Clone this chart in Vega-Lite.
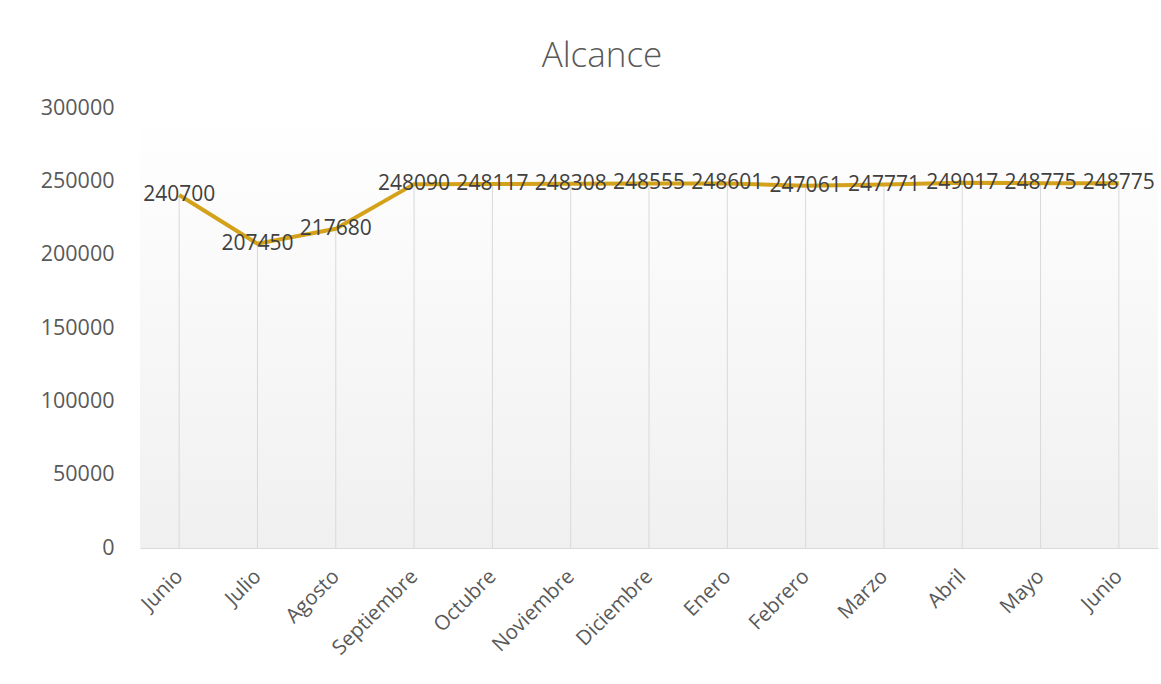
{
  "$schema": "https://vega.github.io/schema/vega-lite/v6.json",
  "width": 1018,
  "height": 440,
  "autosize": {"type": "none"},
  "padding": {"left": 140, "top": 108, "right": 3, "bottom": 136},
  "background": "white",
  "title": {"text": "Alcance", "fontSize": 35, "font": "Open Sans", "fontWeight": 300, "color": "#595959", "anchor": "middle", "offset": 23, "dx": -47},
  "config": {
    "view": {"stroke": null},
    "axisY": {"grid": false, "domain": false, "ticks": false, "labelFontSize": 21.5, "labelFont": "Open Sans", "labelColor": "#595959", "labelPadding": 26, "title": null, "tickCount": 6, "format": "d"},
    "axisX": {"grid": false, "domain": true, "domainColor": "#d9d9d9", "domainWidth": 1, "ticks": false, "labelFontSize": 20.5, "labelFont": "Open Sans", "labelColor": "#595959", "labelAngle": -45, "labelAlign": "right", "labelBaseline": "middle", "labelPadding": 25, "title": null, "labelExpr": "substring(datum.value, 3)"}
  },
  "data": {"values": [
    {"clave": "01 Junio", "valor": 240700},
    {"clave": "02 Julio", "valor": 207450},
    {"clave": "03 Agosto", "valor": 217680},
    {"clave": "04 Septiembre", "valor": 248090},
    {"clave": "05 Octubre", "valor": 248117},
    {"clave": "06 Noviembre", "valor": 248308},
    {"clave": "07 Diciembre", "valor": 248555},
    {"clave": "08 Enero", "valor": 248601},
    {"clave": "09 Febrero", "valor": 247061},
    {"clave": "10 Marzo", "valor": 247771},
    {"clave": "11 Abril", "valor": 249017},
    {"clave": "12 Mayo", "valor": 248775},
    {"clave": "13 Junio", "valor": 248775}
  ]},
  "layer": [
    {
      "data": {"values": [{"desde": 0, "hasta": 300000}]},
      "mark": {"type": "rect", "color": {"gradient": "linear", "x1": 0, "y1": 0, "x2": 0, "y2": 1, "stops": [{"offset": 0, "color": "#ffffff"}, {"offset": 1, "color": "#f0f0f0"}]}},
      "encoding": {
        "y": {"field": "desde", "type": "quantitative", "scale": {"domain": [0, 300000]}},
        "y2": {"field": "hasta"}
      }
    },
    {
      "mark": {"type": "rule", "color": "#d9d9d9", "strokeWidth": 1},
      "encoding": {
        "x": {"field": "clave", "type": "ordinal", "scale": {"type": "point", "padding": 0.5}},
        "y": {"field": "valor", "type": "quantitative"},
        "y2": {"datum": 0}
      }
    },
    {
      "mark": {"type": "line", "color": "#D4A21A", "strokeWidth": 4},
      "encoding": {
        "x": {"field": "clave", "type": "ordinal"},
        "y": {"field": "valor", "type": "quantitative"}
      }
    },
    {
      "mark": {"type": "text", "font": "Open Sans", "fontSize": 21, "color": "#404040", "align": "center", "baseline": "middle"},
      "encoding": {
        "x": {"field": "clave", "type": "ordinal"},
        "y": {"field": "valor", "type": "quantitative"},
        "text": {"field": "valor", "type": "quantitative", "format": "d"}
      }
    }
  ]
}
